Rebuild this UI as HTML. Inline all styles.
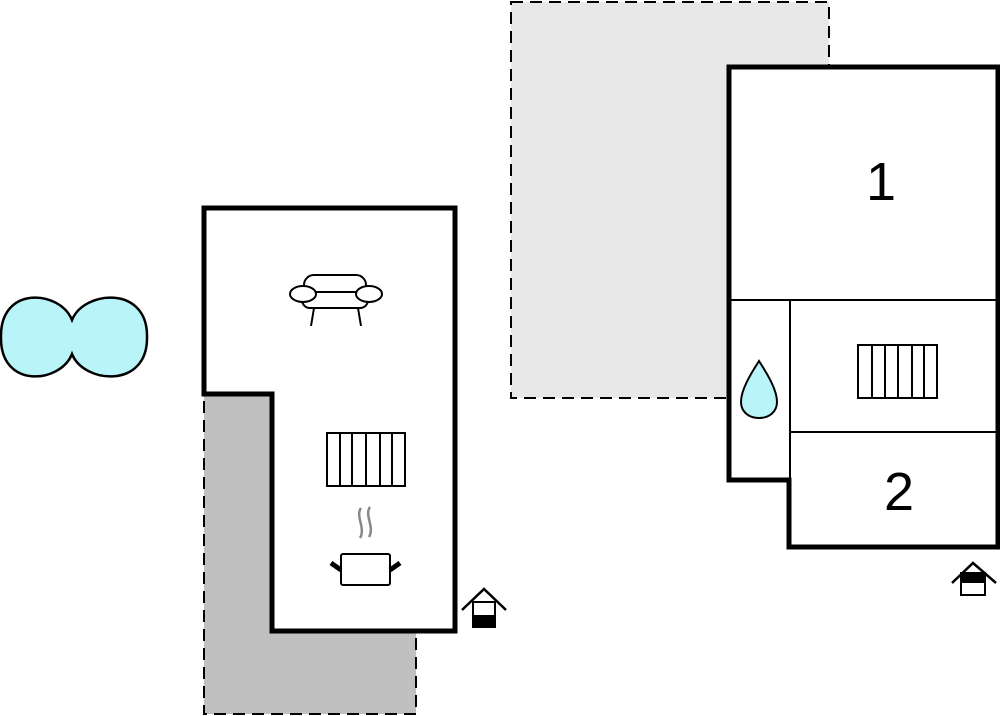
<!DOCTYPE html><html><head><style>body{margin:0;background:#fff}svg{display:block}</style></head><body>
<svg width="1000" height="716" viewBox="0 0 1000 716" xmlns="http://www.w3.org/2000/svg">
<rect x="511" y="2" width="318" height="396" fill="#e8e8e8" stroke="#000" stroke-width="2" stroke-dasharray="12,7"/>
<path d="M204,394 H272 V631 H416 V714 H204 Z" fill="#c0c0c0" stroke="#000" stroke-width="2" stroke-dasharray="12,7"/>
<path d="M204,208 H455 V631 H272 V394 H204 Z" fill="#fff" stroke="#000" stroke-width="5"/>
<path d="M729,67 H998 V547 H789 V480 H729 Z" fill="#fff" stroke="#000" stroke-width="5"/>
<g stroke="#000" stroke-width="2" fill="none">
<line x1="729" y1="300" x2="998" y2="300"/><line x1="790" y1="300" x2="790" y2="480"/><line x1="790" y1="432" x2="998" y2="432"/>
</g>
<text x="881" y="200" font-family="Liberation Sans, sans-serif" font-size="54" text-anchor="middle">1</text>
<text x="899" y="510" font-family="Liberation Sans, sans-serif" font-size="54" text-anchor="middle">2</text>
<path d="M72,320 C60,290 0,285 1,337 C0,389 60,384 72,354 C84,384 148,389 147,337 C148,285 84,290 72,320 Z" fill="#b8f4f8" stroke="#000" stroke-width="2.5"/>
<g stroke="#000" stroke-width="2" fill="#fff">
<rect x="304" y="275" width="62" height="26" rx="10"/>
<rect x="302" y="292" width="66" height="16" rx="8"/>
<ellipse cx="303" cy="294" rx="13" ry="8"/><ellipse cx="369" cy="294" rx="13" ry="8"/>
<line x1="314" y1="308" x2="311" y2="326"/><line x1="358" y1="308" x2="361" y2="326"/>
<rect x="327" y="433" width="78" height="53"/>
<path d="M340,433V486M352,433V486M366,433V486M380,433V486M392,433V486"/>
<rect x="858" y="345" width="79" height="53"/>
<path d="M872,345V398M885,345V398M898,345V398M912,345V398M924,345V398"/>
<rect x="341" y="554" width="49" height="31" rx="2"/>
<rect x="473" y="602" width="22" height="25"/>
<rect x="961" y="573" width="24" height="22"/>
</g>
<g stroke="#000" stroke-width="5"><line x1="331" y1="563" x2="341" y2="570"/><line x1="400" y1="563" x2="390" y2="570"/></g>
<path d="M361,508 c-6,8 5,20 -1,30 M370,507 c-6,8 5,20 -1,30" stroke="#888" stroke-width="2.5" fill="none"/>
<rect x="473" y="615" width="22" height="12" fill="#000"/>
<rect x="961" y="573" width="24" height="10" fill="#000"/>
<g stroke="#000" stroke-width="2.5" fill="none"><path d="M462,610 L484,589 L506,610"/><path d="M952,583 L973,563 L996,583"/></g>
<path d="M759,361 C750,375 741,390 741,402 C741,412 749,418 759,418 C769,418 777,412 777,402 C777,390 768,375 759,361 Z" fill="#b8f4f8" stroke="#000" stroke-width="2"/>
</svg></body></html>
